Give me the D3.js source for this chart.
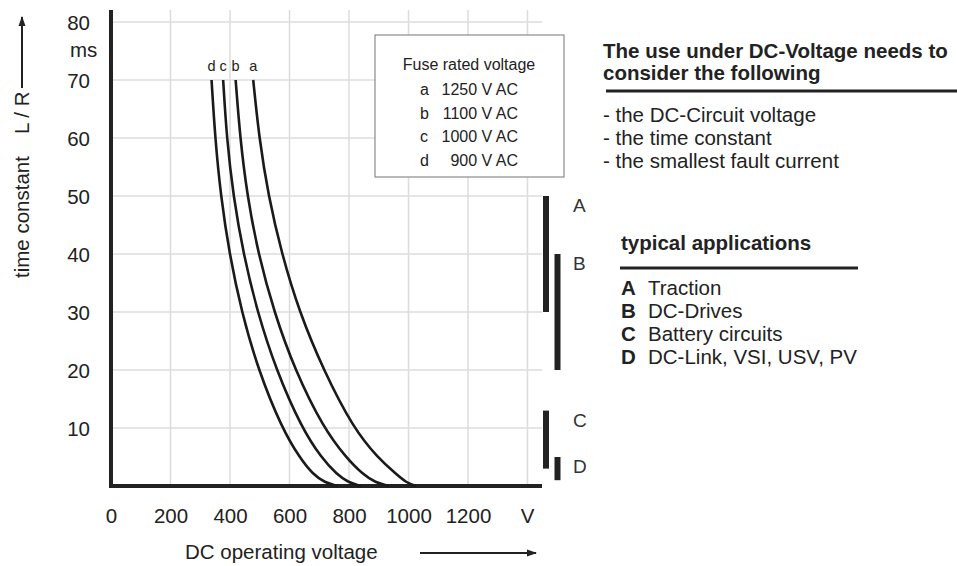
<!DOCTYPE html>
<html>
<head>
<meta charset="utf-8">
<script src="https://cdn.jsdelivr.net/npm/d3@7"></script>
<style>
  body { margin: 0; background: #fff; }
  svg { display: block; font-family: "Liberation Sans", Arial, sans-serif; }
</style>
</head>
<body>
<script>
/**
 * Data
 */
const xTicks = [0, 200, 400, 600, 800, 1000, 1200];
const xUnitAt = 1400;
const yTicks = [10, 20, 30, 40, 50, 60, 70, 80];

// time constant levels (ms) where the curves were read
const tauLevels = [70, 60, 50, 40, 30, 20, 10, 4.8, 2, 0.6, 0];
// DC voltage of each fuse curve at those levels
const voltsA = [478, 498, 529, 574, 633, 714, 814, 898, 960, 992, 1025];
const voltsB = [419, 434, 458, 495, 548, 618, 714, 792, 847, 888, 935];
const voltsC = [377, 389, 411, 445, 492, 555, 641, 708, 759, 798, 840];
const voltsD = [338, 350, 369, 398, 439, 495, 574, 635, 679, 718, 762];

const curveNames = ["a", "b", "c", "d"];
const fuseRatings = ["1250 V AC", "1100 V AC", "1000 V AC", "900 V AC"];

const appCodes = ["A", "B", "C", "D"];
const appNames = ["Traction", "DC-Drives", "Battery circuits", "DC-Link, VSI, USV, PV"];
const appLow = [30, 20, 3, 1];
const appHigh = [50, 40, 13, 5];

const considerTitle = ["The use under DC-Voltage needs to", "consider the following"];
const considerItems = ["- the DC-Circuit voltage", "- the time constant", "- the smallest fault current"];

/**
 * Canvas
 */
const width = 957, height = 566;
const ink = "#222";
const svg = d3.select("body").append("svg")
  .attr("width", width)
  .attr("height", height);

const x = d3.scaleLinear().domain([0, 1400]).range([111, 527.5]);
const y = d3.scaleLinear().domain([0, 80]).range([486, 22]);

// grid
const grid = svg.append("g").attr("stroke", "#dcdcdc").attr("stroke-width", 1.5);
grid.selectAll(".gx")
  .data(d3.range(200, 1401, 200))
  .join("line")
    .attr("x1", d => x(d)).attr("x2", d => x(d))
    .attr("y1", 10).attr("y2", y(0));
grid.selectAll(".gy")
  .data(yTicks)
  .join("line")
    .attr("x1", x(0)).attr("x2", 542)
    .attr("y1", d => y(d)).attr("y2", d => y(d));

// axes
const xAxis = d3.axisBottom(x).tickValues(xTicks).tickFormat(d3.format("d")).tickSize(0).tickPadding(22);
const gx = svg.append("g").attr("transform", "translate(0," + y(0) + ")").call(xAxis);
gx.select(".domain").remove();
gx.selectAll("text").attr("font-size", 20.5).attr("fill", ink).attr("font-family", null);

svg.append("text")
  .attr("x", x(xUnitAt)).attr("y", 523)
  .attr("text-anchor", "middle").attr("font-size", 20.5).attr("fill", ink)
  .text("V");

const yAxis = d3.axisLeft(y).tickValues(yTicks).tickSize(0).tickPadding(21);
const gy = svg.append("g").attr("transform", "translate(" + x(0) + ",0)").call(yAxis);
gy.select(".domain").remove();
gy.selectAll("text").attr("font-size", 20.5).attr("fill", ink).attr("font-family", null).attr("dy", "0.36em");

svg.append("text")
  .attr("x", 70).attr("y", 57)
  .attr("font-size", 20.5).attr("fill", ink)
  .text("ms");

// axis lines
svg.append("line")
  .attr("x1", x(0)).attr("x2", x(0)).attr("y1", 10).attr("y2", y(0) + 2)
  .attr("stroke", ink).attr("stroke-width", 4);
svg.append("line")
  .attr("x1", x(0) - 2).attr("x2", 542).attr("y1", y(0)).attr("y2", y(0))
  .attr("stroke", ink).attr("stroke-width", 4);

// axis titles with arrows
svg.append("defs").append("marker")
  .attr("id", "arrow")
  .attr("viewBox", "0 0 10 10")
  .attr("refX", 9).attr("refY", 5)
  .attr("markerWidth", 5).attr("markerHeight", 5)
  .attr("orient", "auto")
  .append("path").attr("d", "M0,1.5L10,5L0,8.5Z").attr("fill", ink);

svg.append("text")
  .attr("transform", "translate(29,278) rotate(-90)")
  .attr("font-size", 20.5).attr("fill", ink)
  .text("time constant");
svg.append("text")
  .attr("transform", "translate(29,134) rotate(-90)")
  .attr("font-size", 20.5).attr("fill", ink)
  .text("L / R");
svg.append("line")
  .attr("x1", 22).attr("x2", 22).attr("y1", 88).attr("y2", 17)
  .attr("stroke", ink).attr("stroke-width", 2)
  .attr("marker-end", "url(#arrow)");

svg.append("text")
  .attr("x", 185).attr("y", 559)
  .attr("font-size", 20.5).attr("fill", ink)
  .text("DC operating voltage");
svg.append("line")
  .attr("x1", 420).attr("x2", 536).attr("y1", 553).attr("y2", 553)
  .attr("stroke", ink).attr("stroke-width", 2)
  .attr("marker-end", "url(#arrow)");

// fuse curves
const series = [voltsA, voltsB, voltsC, voltsD];
const line = d3.line()
  .x(d => x(d[0]))
  .y(d => y(d[1]))
  .curve(d3.curveBasis);

series.forEach((volts, i) => {
  const pts = volts.map((v, k) => [v, tauLevels[k]]);
  svg.append("path")
    .attr("d", line(pts))
    .attr("fill", "none")
    .attr("stroke", "#1a1a1a")
    .attr("stroke-width", 2.6);
  svg.append("text")
    .attr("x", x(volts[0]))
    .attr("y", y(tauLevels[0]) - 9)
    .attr("text-anchor", "middle")
    .attr("font-size", 14.5).attr("fill", ink)
    .text(curveNames[i]);
});

// legend box
const legend = svg.append("g");
legend.append("rect")
  .attr("x", 375).attr("y", 35).attr("width", 189).attr("height", 142)
  .attr("fill", "#fff").attr("stroke", "#8a8a8a").attr("stroke-width", 1.2);
legend.append("text")
  .attr("x", 469).attr("y", 70)
  .attr("text-anchor", "middle").attr("font-size", 16).attr("fill", ink)
  .text("Fuse rated voltage");
curveNames.forEach((n, i) => {
  legend.append("text")
    .attr("x", 420).attr("y", 95 + i * 23.7)
    .attr("font-size", 16).attr("fill", ink)
    .text(n);
  legend.append("text")
    .attr("x", 518).attr("y", 95 + i * 23.7)
    .attr("text-anchor", "end").attr("font-size", 16).attr("fill", ink)
    .text(fuseRatings[i]);
});

// application ranges
appCodes.forEach((c, i) => {
  const cx = x(xUnitAt) + 18.5 + (i % 2) * 11.5;
  svg.append("rect")
    .attr("x", cx - 3).attr("width", 6)
    .attr("y", y(appHigh[i]))
    .attr("height", y(appLow[i]) - y(appHigh[i]))
    .attr("fill", ink);
  svg.append("text")
    .attr("x", 573).attr("y", y(appHigh[i]) + 16)
    .attr("font-size", 19).attr("fill", "#333")
    .text(c);
});

// right side notes
considerTitle.forEach((t, i) => {
  svg.append("text")
    .attr("x", 603).attr("y", 58 + i * 22)
    .attr("font-size", 20.5).attr("font-weight", "bold").attr("fill", ink)
    .text(t);
});
svg.append("line")
  .attr("x1", 606).attr("x2", 957).attr("y1", 91).attr("y2", 91)
  .attr("stroke", ink).attr("stroke-width", 3);
considerItems.forEach((t, i) => {
  svg.append("text")
    .attr("x", 603).attr("y", 122 + i * 23)
    .attr("font-size", 20.5).attr("fill", ink)
    .text(t);
});

svg.append("text")
  .attr("x", 621).attr("y", 250)
  .attr("font-size", 20.5).attr("font-weight", "bold").attr("fill", ink)
  .text("typical applications");
svg.append("line")
  .attr("x1", 620).attr("x2", 858).attr("y1", 268).attr("y2", 268)
  .attr("stroke", ink).attr("stroke-width", 3);
appCodes.forEach((c, i) => {
  svg.append("text")
    .attr("x", 621).attr("y", 295 + i * 23)
    .attr("font-size", 20.5).attr("font-weight", "bold").attr("fill", ink)
    .text(c);
  svg.append("text")
    .attr("x", 648).attr("y", 295 + i * 23)
    .attr("font-size", 20.5).attr("fill", ink)
    .text(appNames[i]);
});
</script>
</body>
</html>
